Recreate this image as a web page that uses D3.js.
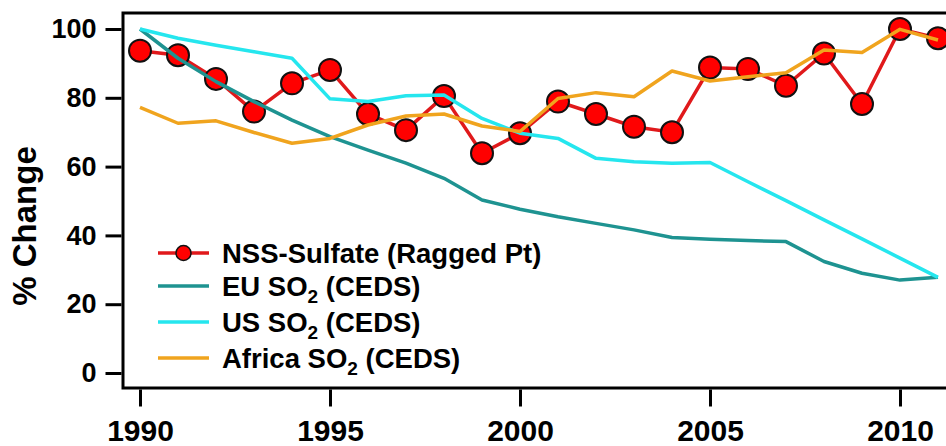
<!DOCTYPE html>
<html><head><meta charset="utf-8">
<script src="https://cdn.jsdelivr.net/npm/d3@7"></script>
<style>body{margin:0;background:#fff;overflow:hidden}svg{display:block}</style>
</head><body>
<svg id="c" width="946" height="446"></svg>
<script>
const years = [1990,1991,1992,1993,1994,1995,1996,1997,1998,1999,2000,2001,2002,2003,2004,2005,2006,2007,2008,2009,2010,2011];
const nssSulfate = [93.7,92.4,85.5,76.0,84.2,88.1,75.3,70.6,80.5,63.9,69.7,78.9,75.3,71.6,70.0,88.8,88.4,83.5,92.9,78.2,100,97.3];
const euSO2 = [100,91.5,84.7,78.9,73.5,68.7,64.8,61.0,56.6,50.3,47.6,45.4,43.5,41.6,39.4,38.9,38.5,38.2,32.4,29.0,27.0,27.8];
const usSO2 = [100,97.3,95.3,93.4,91.5,79.7,78.9,80.6,80.8,74.0,69.7,68.2,62.4,61.4,61.0,61.2,55.6,50.1,44.5,39.0,33.4,27.8];
const africaSO2 = [77.2,72.6,73.3,69.9,66.8,68.2,72.1,74.7,75.3,71.8,70.2,79.8,81.5,80.3,87.8,84.9,86.1,87.3,93.9,93.2,99.9,96.8];
const xTicks = [1990,1995,2000,2005,2010];
const yTicks = [0,20,40,60,80,100];
const legendLabels = [
  {main:"NSS-Sulfate (Ragged Pt)", sub:null, rest:""},
  {main:"EU SO", sub:"2", rest:" (CEDS)"},
  {main:"US SO", sub:"2", rest:" (CEDS)"},
  {main:"Africa SO", sub:"2", rest:" (CEDS)"}
];
const colors = {nss:"#e0191b", eu:"#1e9391", us:"#25e6ee", af:"#f0a41e"};

(function(){
const svg = d3.select("#c");
const font = "'Liberation Sans', Arial, sans-serif";
const x = d3.scaleLinear().domain([1990,2010]).range([140,900]);
const y = d3.scaleLinear().domain([0,100]).range([373,29]);
const fL = 123, fT = 13, fB = 388, fR = 980;

const g = svg.append("g");
g.append("rect").attr("x",fL).attr("y",fT).attr("width",fR-fL).attr("height",fB-fT)
  .attr("fill","none").attr("stroke","#000").attr("stroke-width",3);

const yAxis = d3.axisLeft(y).tickValues(yTicks).tickSize(16).tickPadding(9);
const ya = g.append("g").attr("transform",`translate(${fL-1.5},0)`).call(yAxis);
ya.select(".domain").remove();
ya.selectAll(".tick line").attr("stroke","#000").attr("stroke-width",3);
ya.selectAll(".tick text").attr("font-family",font).attr("font-weight","bold").attr("font-size",27).attr("fill","#000");

const xAxis = d3.axisBottom(x).tickValues(xTicks).tickFormat(d3.format("d")).tickSize(17).tickPadding(13);
const xa = g.append("g").attr("transform",`translate(0,${fB+1.5})`).call(xAxis);
xa.select(".domain").remove();
xa.selectAll(".tick line").attr("stroke","#000").attr("stroke-width",3);
xa.selectAll(".tick text").attr("font-family",font).attr("font-weight","bold").attr("font-size",30).attr("fill","#000");

svg.append("text").attr("transform","translate(36,226) rotate(-90)").attr("text-anchor","middle")
  .attr("font-family",font).attr("font-weight","bold").attr("font-size",33).text("% Change");

const line = d3.line().x((d,i)=>x(years[i])).y(d=>y(d));
const plot = svg.append("g");
plot.append("path").datum(nssSulfate).attr("d",line).attr("fill","none").attr("stroke",colors.nss).attr("stroke-width",3.5);
plot.selectAll("circle.nss").data(nssSulfate).enter().append("circle").attr("class","nss")
  .attr("cx",(d,i)=>x(years[i])).attr("cy",d=>y(d)).attr("r",11)
  .attr("fill","#ff0000").attr("stroke","#111").attr("stroke-width",2);
[[euSO2,colors.eu],[usSO2,colors.us],[africaSO2,colors.af]].forEach(([arr,c])=>{
  plot.append("path").datum(arr).attr("d",line).attr("fill","none").attr("stroke",c).attr("stroke-width",3.5).attr("stroke-linejoin","round");
});

const lg = svg.append("g");
const legendColors = [colors.nss, colors.eu, colors.us, colors.af];
const rowY = [253, 286, 322, 358];
legendLabels.forEach((L,i)=>{
  const yy = rowY[i];
  lg.append("line").attr("x1",158).attr("x2",209).attr("y1",yy).attr("y2",yy).attr("stroke",legendColors[i]).attr("stroke-width",3.5);
  if(i===0) lg.append("circle").attr("cx",183.5).attr("cy",yy).attr("r",7.5).attr("fill","#ff0000").attr("stroke","#111").attr("stroke-width",1.5);
  const t = lg.append("text").attr("x",222).attr("y",yy+9.5).attr("font-family",font).attr("font-weight","bold").attr("font-size",27.5).attr("fill","#000");
  t.append("tspan").text(L.main);
  if(L.sub){
    t.append("tspan").attr("font-size",19).attr("dy",7).text(L.sub);
    t.append("tspan").attr("dy",-7).text(L.rest);
  }
});
})();
</script>
</body></html>
